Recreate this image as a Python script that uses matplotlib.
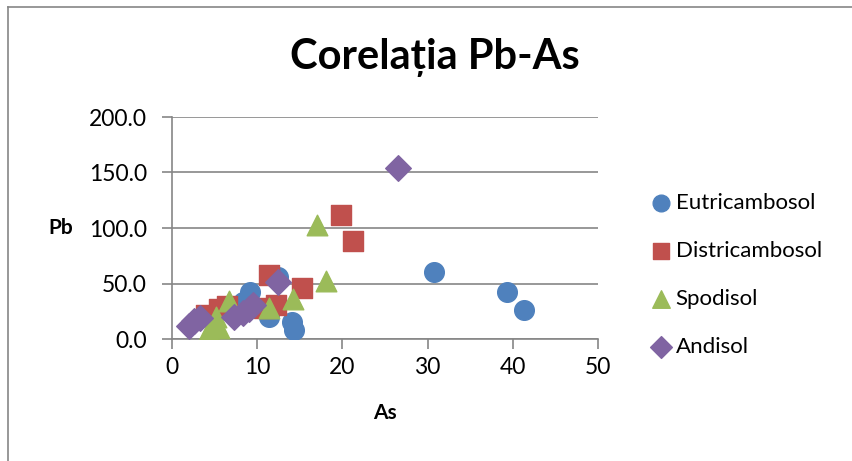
import matplotlib.pyplot as plt
from matplotlib.lines import Line2D

# data (As, Pb)
eutri_as = [9.2, 8.3, 11.4, 12.4, 14.1, 14.3, 30.7, 39.3, 41.3]
eutri_pb = [42, 33, 20, 56, 15, 8, 60, 42, 26]

distri_as = [4.0, 5.5, 6.5, 10.8, 12.2, 11.4, 15.3, 19.8, 21.3]
distri_pb = [22, 27, 30, 28, 31, 58, 46, 112, 88]

spodi_as = [4.3, 5.0, 5.2, 5.5, 6.7, 11.4, 14.2, 17.0, 18.1]
spodi_pb = [8, 12, 20, 10, 34, 28, 36, 103, 52]

andi_as = [2.0, 2.6, 3.3, 7.3, 8.3, 9.0, 9.5, 12.4, 26.5]
andi_pb = [12, 16, 19, 20, 23, 27, 31, 51, 154]

x_ticks = [0, 10, 20, 30, 40, 50]
y_ticks = [0, 50, 100, 150, 200]

plt.rcParams['font.family'] = ['Lato', 'DejaVu Sans']

fig = plt.figure(figsize=(8.52, 4.61), dpi=100)
ax = fig.add_axes([172 / 852, 1 - 339 / 461, 426 / 852, 222 / 461])

ax.scatter(eutri_as, eutri_pb, s=200, marker='o', color='#4F81BD', label='Eutricambosol', zorder=3)
ax.scatter(distri_as, distri_pb, s=200, marker='s', color='#C0504D', label='Districambosol', zorder=3)
ax.scatter(spodi_as, spodi_pb, s=220, marker='^', color='#9BBB59', label='Spodisol', zorder=3)
ax.scatter(andi_as, andi_pb, s=170, marker='D', color='#8064A2', label='Andisol', zorder=3)

ax.set_xlim(0, 50)
ax.set_ylim(0, 200)
ax.set_xticks(x_ticks)
ax.set_yticks(y_ticks)
ax.set_yticklabels([f'{v:.1f}' for v in y_ticks])
ax.tick_params(labelsize=16.5, color='#868686', length=7, width=1.2)
ax.tick_params(axis='y', pad=11)
ax.tick_params(axis='x', pad=6)
ax.yaxis.grid(True, color='#868686', linewidth=1.2)
ax.set_axisbelow(True)
for side in ['top', 'right']:
    ax.spines[side].set_visible(False)
for side in ['left', 'bottom']:
    ax.spines[side].set_color('#868686')
    ax.spines[side].set_linewidth(1.2)

ax.set_xlabel('As', fontsize=15, fontweight='bold', labelpad=18)
ax.set_ylabel('Pb', fontsize=15, fontweight='bold', rotation=0, labelpad=20, va='center')

fig.text(0.51, 0.876, 'Corelația Pb-As', fontsize=30, fontweight='bold', ha='center', va='center')

ax.legend(loc='center left', bbox_to_anchor=(650 / 852, 1 - 275 / 461), bbox_transform=fig.transFigure,
          frameon=False, fontsize=16, labelspacing=1.25, handletextpad=0.15, handlelength=1.0,
          borderpad=0, borderaxespad=0, markerscale=0.85)

# outer chart border
fig.add_artist(Line2D([8 / 852, 8 / 852], [0, 1 - 7 / 461], color='#868686', lw=1.2))
fig.add_artist(Line2D([8 / 852, 1], [1 - 7 / 461, 1 - 7 / 461], color='#868686', lw=1.2))

fig.savefig('out.png', dpi=100)
